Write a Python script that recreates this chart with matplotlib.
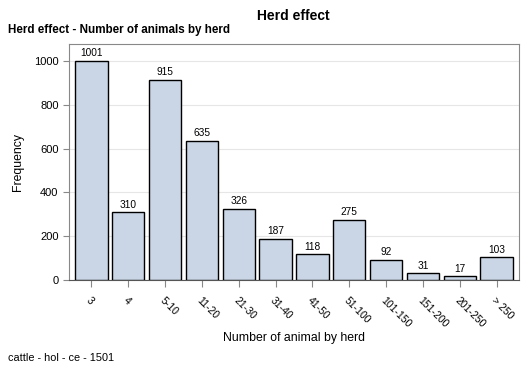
import matplotlib.pyplot as plt
import numpy as np

plt.rcParams["font.family"] = ["Liberation Sans", "DejaVu Sans"]

categories = ["3", "4", "5-10", "11-20", "21-30", "31-40", "41-50", "51-100",
              "101-150", "151-200", "201-250", "> 250"]
counts = [1001, 310, 915, 635, 326, 187, 118, 275, 92, 31, 17, 103]

bar_color = "#CAD5E5"

fig = plt.figure(figsize=(5.29, 3.77), dpi=100)
ax = fig.add_axes([69 / 529, 1 - 280 / 377, 450 / 529, 236 / 377])

x = np.arange(len(categories))
bars = ax.bar(x, counts, width=0.88, color=bar_color, edgecolor="black",
              linewidth=1.0, zorder=3)
for xi, v in zip(x, counts):
    ax.text(xi, v + 12, str(v), ha="center", va="bottom", fontsize=7.3)

ax.set_xlim(-0.606, len(categories) - 0.394)
ax.set_ylim(0, 1078)
ax.set_yticks([0, 200, 400, 600, 800, 1000])
ax.tick_params(axis="y", labelsize=8, length=4, color="#888888")
ax.set_xticks(x)
ax.set_xticklabels(categories, rotation=-45, ha="left", va="top",
                   rotation_mode="anchor", fontsize=7.5)
ax.tick_params(axis="x", length=5, color="#888888", pad=6)
ax.grid(axis="y", color="#E6E6E6", linewidth=0.8, zorder=0)
for side in ["left", "right", "top", "bottom"]:
    ax.spines[side].set_color("#888888")
ax.spines["bottom"].set_color("#555555")

ax.set_xlabel("Number of animal by herd", fontsize=8.8, labelpad=2)
ax.set_ylabel("Frequency", fontsize=8.8)
ax.yaxis.set_label_coords(-0.1, 0.5)

fig.text(293 / 529, 1 - 16 / 377, "Herd effect", ha="center", va="center",
         fontsize=10, fontweight="bold")
fig.text(8 / 529, 1 - 30 / 377, "Herd effect - Number of animals by herd",
         ha="left", va="center", fontsize=8.4, fontweight="bold")
fig.text(8 / 529, 1 - 358 / 377, "cattle - hol - ce - 1501", ha="left",
         va="center", fontsize=7.8)

plt.savefig("out.png", dpi=100)
